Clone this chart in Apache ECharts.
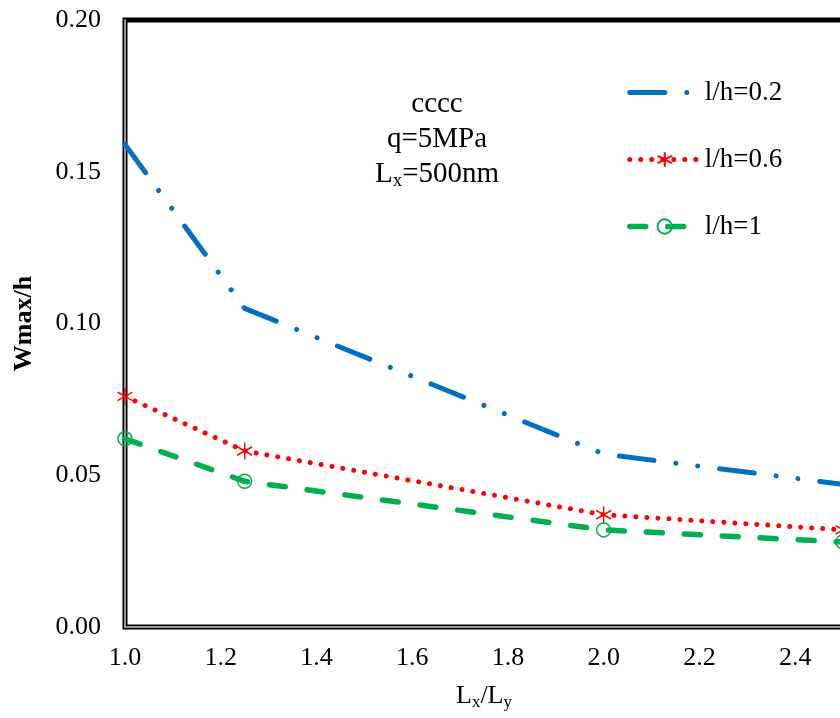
<!DOCTYPE html>
<html>
<head>
<meta charset="utf-8">
<title>Wmax/h</title>
<script src="https://cdn.jsdelivr.net/npm/echarts@6/dist/echarts.min.js"></script>
<style>
	html, body { margin: 0; padding: 0; background: #fff; }
	#chart { width: 840px; height: 718px; }
</style>
</head>
<body>
<div id="chart"></div>
<script>
// 数据
var ratio = [1.0, 1.25, 2.0, 2.5];		// Lx/Ly
var lh02 = [0.159, 0.105, 0.057, 0.047];	// l/h=0.2
var lh06 = [0.076, 0.058, 0.037, 0.032];	// l/h=0.6
var lh1 = [0.062, 0.048, 0.032, 0.028];	// l/h=1
var seriesNames = ['l/h=0.2', 'l/h=0.6', 'l/h=1'];
var yTicks = [0, 0.05, 0.1, 0.15, 0.2];

var font = 'Liberation Serif';

function pairs(xs, ys) {
	var out = [];
	for (var i = 0; i < xs.length; i++) {
		out.push([xs[i], ys[i]]);
	}
	return out;
}

var chart = echarts.init(document.getElementById('chart'));

var option = {
	animation: false,
	backgroundColor: '#fff',
	textStyle: { fontFamily: font, color: '#000' },
	title: {
		text: 'cccc\nq=5MPa\nL{sub|x}=500nm',
		left: 432,
		top: 82,
		textAlign: 'center',
		textStyle: {
			fontFamily: font,
			fontWeight: 'normal',
			fontSize: 29,
			lineHeight: 35,
			color: '#000',
			rich: {
				sub: { fontSize: 19, fontFamily: font, padding: [14, 0, 0, 0] }
			}
		}
	},
	legend: {
		orient: 'vertical',
		left: 627,
		top: 79,
		padding: 0,
		itemWidth: 70,
		itemHeight: 18,
		itemGap: 40,
		data: [
			// 蓝线图例不画圆点
			{ name: seriesNames[0], itemStyle: { color: 'transparent', borderWidth: 0 } },
			{ name: seriesNames[1] },
			{ name: seriesNames[2] }
		],
		lineStyle: { width: 'inherit' },
		textStyle: { fontFamily: font, fontSize: 27, color: '#000' }
	},
	grid: {
		left: 125,
		top: 20,
		width: 718,
		bottom: 91,
		outerBoundsMode: 'none',
		show: true,
		borderColor: '#000',
		borderWidth: 5,
		backgroundColor: 'transparent'
	},
	xAxis: {
		type: 'value',
		min: 1.0,
		max: 2.5,
		interval: 0.2,
		name: 'L{sub|x}/L{sub|y}',
		nameLocation: 'middle',
		nameGap: 54,
		nameTextStyle: {
			fontFamily: font,
			fontSize: 26,
			color: '#000',
			rich: {
				sub: { fontSize: 17, fontFamily: font, padding: [13, 0, 0, 0] }
			}
		},
		axisLine: { lineStyle: { color: '#ccc', width: 1.5 } },
		axisTick: { show: false },
		splitLine: { show: false },
		axisLabel: {
			margin: 18,
			fontFamily: font,
			fontSize: 26,
			color: '#000',
			showMaxLabel: false,
			formatter: function (v) { return v.toFixed(1); }
		}
	},
	yAxis: {
		type: 'value',
		min: yTicks[0],
		max: yTicks[yTicks.length - 1],
		interval: 0.05,
		name: 'Wmax/h',
		nameLocation: 'middle',
		nameGap: 88,
		nameTextStyle: { fontFamily: font, fontSize: 26, fontWeight: 'bold', color: '#000' },
		axisLine: { lineStyle: { color: '#ccc', width: 1.5 } },
		axisTick: { show: false },
		splitLine: { show: false },
		axisLabel: {
			margin: 24,
			fontFamily: font,
			fontSize: 26,
			color: '#000',
			formatter: function (v) { return v.toFixed(2); }
		}
	},
	series: [
		{
			name: seriesNames[0],
			type: 'line',
			symbol: 'none',
			data: pairs(ratio, lh02),
			lineStyle: {
				color: '#0070C0',
				width: 5,
				cap: 'round',
				type: [35, 22, 0.01, 22, 0.01, 22]
			},
			itemStyle: { color: '#0070C0' },
			z: 3
		},
		{
			name: seriesNames[1],
			type: 'line',
			symbol: 'path://M10 0 L10 20 M1.34 5 L18.66 15 M1.34 15 L18.66 5',
			symbolSize: [15, 17],
			data: pairs(ratio, lh06),
			lineStyle: {
				color: '#FF0000',
				width: 5,
				cap: 'round',
				type: [0.01, 11]
			},
			itemStyle: { color: 'none', borderColor: '#FF0000', borderWidth: 1.5 },
			z: 4
		},
		{
			name: seriesNames[2],
			type: 'line',
			symbol: 'circle',
			symbolSize: 14,
			data: pairs(ratio, lh1),
			lineStyle: {
				color: '#00B050',
				width: 5.5,
				cap: 'round',
				type: [16, 22]
			},
			itemStyle: { color: 'none', borderColor: '#00B050', borderWidth: 1.5 },
			z: 5
		}
	]
};

chart.setOption(option);
</script>
</body>
</html>
